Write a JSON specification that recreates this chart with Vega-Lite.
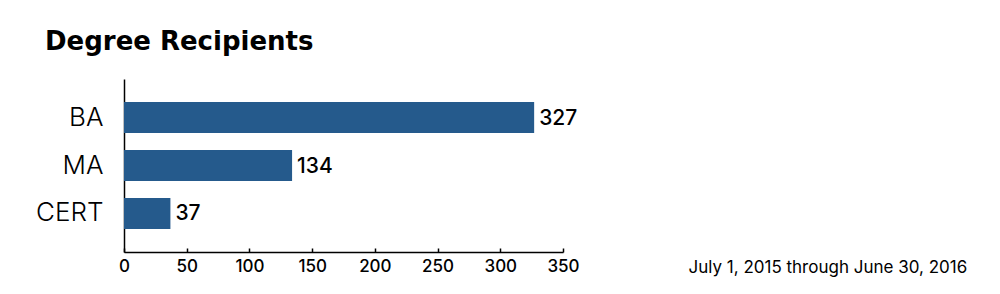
{
  "$schema": "https://vega.github.io/schema/vega-lite/v6.json",
  "autosize": "none",
  "width": 439,
  "height": 173,
  "padding": {"left": 124, "top": 79, "right": 437, "bottom": 42},
  "background": "white",
  "config": {"view": {"stroke": null}, "font": "Inter"},
  "title": {
    "text": "Degree Recipients",
    "anchor": "start",
    "frame": "group",
    "dx": -79,
    "offset": 3,
    "baseline": "alphabetic",
    "font": "DejaVu Sans",
    "fontSize": 26,
    "fontWeight": "bold",
    "color": "black"
  },
  "data": {
    "values": [
      {"degree": "BA", "count": 327},
      {"degree": "MA", "count": 134},
      {"degree": "CERT", "count": 37}
    ]
  },
  "encoding": {
    "y": {
      "field": "degree",
      "type": "nominal",
      "sort": ["BA", "MA", "CERT"],
      "scale": {"paddingInner": 0.354, "paddingOuter": 0.48},
      "axis": {
        "title": null,
        "ticks": false,
        "labelPadding": 21,
        "labelFont": "Inter",
        "labelFontSize": 26,
        "labelFontWeight": 300,
        "labelColor": "black",
        "domainColor": "black",
        "domainWidth": 1.5
      }
    },
    "x": {
      "field": "count",
      "type": "quantitative",
      "scale": {"domain": [0, 350], "nice": false},
      "axis": {
        "values": [0, 50, 100, 150, 200, 250, 300, 350],
        "grid": false,
        "tickSize": -4,
        "tickColor": "black",
        "tickWidth": 1.5,
        "labelPadding": 10,
        "labelFont": "Inter",
        "labelFontSize": 17,
        "labelFontWeight": 500,
        "labelColor": "black",
        "labelFlush": false,
        "domainColor": "black",
        "domainWidth": 1.5,
        "title": "July 1, 2015 through June 30, 2016",
        "titleFont": "Inter",
        "titleFontSize": 17,
        "titleFontWeight": 400,
        "titleColor": "black",
        "titleAlign": "left",
        "titleBaseline": "alphabetic",
        "titleX": 564,
        "titleY": 20
      }
    }
  },
  "layer": [
    {"mark": {"type": "bar", "color": "#255a8c"}},
    {
      "mark": {"type": "text", "align": "left", "baseline": "middle", "dx": 5, "dy": 1, "fontSize": 21, "fontWeight": 500, "font": "Inter", "color": "black"},
      "encoding": {"text": {"field": "count", "type": "quantitative"}}
    }
  ]
}
